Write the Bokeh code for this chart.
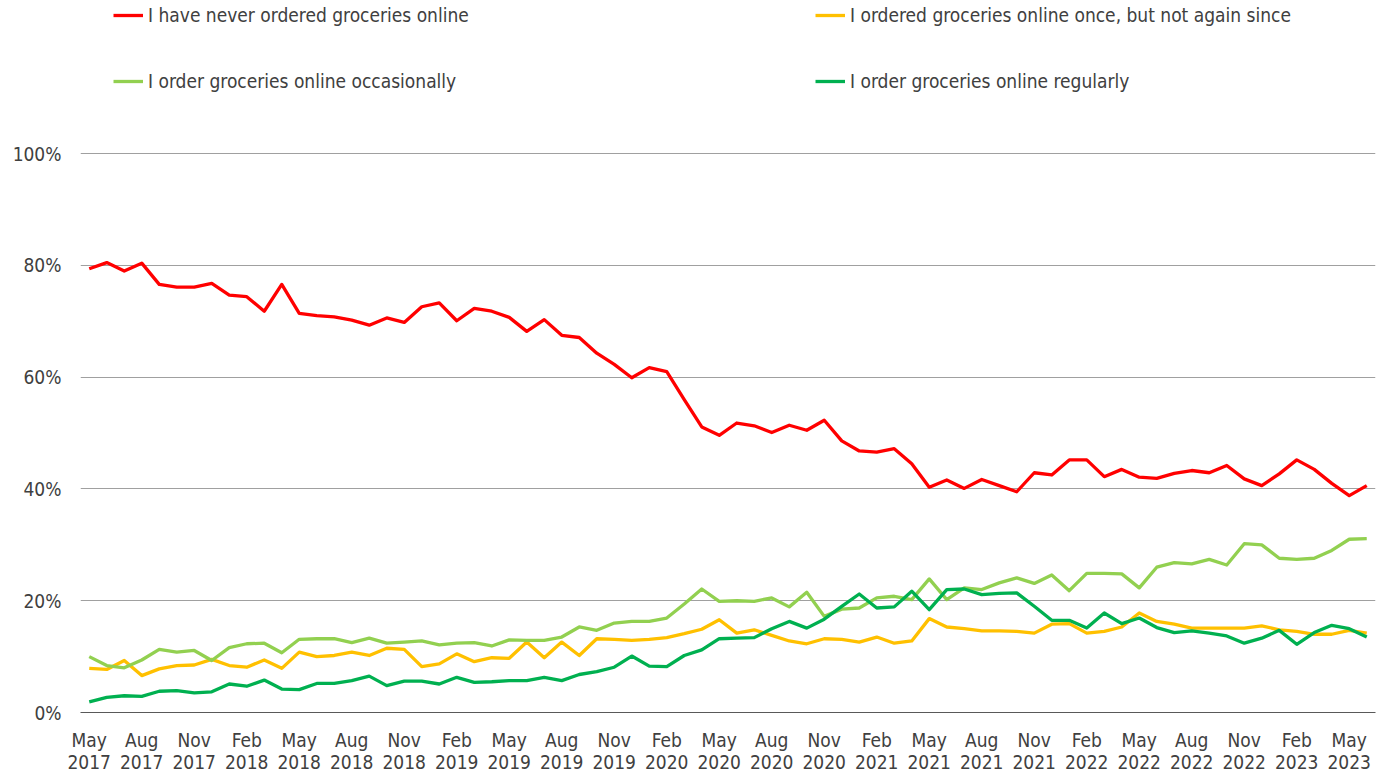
from bokeh.plotting import figure
from bokeh.models import Range1d, FixedTicker, PrintfTickFormatter, Legend, LegendItem
from bokeh.embed import file_html
from bokeh.resources import INLINE

# ---- data (percent of respondents), monthly May 2017 .. Jun 2023 ----
never = [79.4, 80.5, 79.0, 80.4, 76.6, 76.1, 76.1, 76.8, 74.7, 74.4, 71.8, 76.6, 71.4, 71.0, 70.8,
         70.2, 69.3, 70.6, 69.8, 72.6, 73.3, 70.1, 72.3, 71.8, 70.7, 68.2, 70.3, 67.5, 67.1, 64.3,
         62.3, 59.9, 61.7, 61.0, 56.0, 51.1, 49.6, 51.8, 51.3, 50.1, 51.4, 50.5, 52.3, 48.6, 46.8,
         46.6, 47.2, 44.5, 40.3, 41.6, 40.1, 41.7, 40.6, 39.5, 42.9, 42.5, 45.2, 45.2, 42.2, 43.5,
         42.1, 41.9, 42.8, 43.3, 42.9, 44.2, 41.8, 40.6, 42.7, 45.2, 43.5, 41.0, 38.8, 40.6]
once = [7.9, 7.7, 9.3, 6.6, 7.8, 8.4, 8.5, 9.5, 8.4, 8.1, 9.4, 7.9, 10.8, 10.0, 10.2,
        10.8, 10.2, 11.5, 11.3, 8.2, 8.7, 10.5, 9.1, 9.8, 9.7, 12.6, 9.8, 12.6, 10.2, 13.2,
        13.1, 12.9, 13.1, 13.4, 14.1, 14.9, 16.6, 14.2, 14.8, 13.8, 12.8, 12.3, 13.2, 13.1, 12.6,
        13.5, 12.4, 12.8, 16.8, 15.3, 15.0, 14.6, 14.6, 14.5, 14.2, 15.8, 15.9, 14.2, 14.5, 15.3,
        17.8, 16.3, 15.8, 15.1, 15.1, 15.1, 15.1, 15.5, 14.8, 14.5, 14.0, 14.0, 14.7, 14.2]
occasionally = [10.0, 8.4, 8.0, 9.4, 11.3, 10.8, 11.1, 9.3, 11.6, 12.3, 12.4, 10.7, 13.1, 13.2, 13.2,
                12.5, 13.3, 12.4, 12.6, 12.8, 12.1, 12.4, 12.5, 11.9, 13.0, 12.9, 12.9, 13.5, 15.3, 14.7,
                16.0, 16.3, 16.3, 16.9, 19.4, 22.1, 19.9, 20.0, 19.9, 20.5, 18.9, 21.5, 17.2, 18.5, 18.7,
                20.5, 20.8, 20.2, 23.9, 20.2, 22.3, 22.0, 23.2, 24.1, 23.1, 24.6, 21.8, 24.9, 24.9, 24.8,
                22.3, 26.0, 26.8, 26.6, 27.4, 26.4, 30.2, 30.0, 27.6, 27.4, 27.6, 29.0, 31.0, 31.1]
regularly = [1.9, 2.7, 3.0, 2.9, 3.8, 3.9, 3.5, 3.7, 5.1, 4.7, 5.8, 4.2, 4.1, 5.2, 5.2,
             5.7, 6.5, 4.8, 5.6, 5.6, 5.1, 6.3, 5.4, 5.5, 5.7, 5.7, 6.3, 5.7, 6.8, 7.3,
             8.1, 10.1, 8.3, 8.2, 10.2, 11.2, 13.2, 13.3, 13.4, 15.0, 16.3, 15.1, 16.7, 19.0, 21.2,
             18.7, 18.9, 21.7, 18.4, 22.0, 22.1, 21.1, 21.3, 21.4, 19.0, 16.5, 16.5, 15.1, 17.8, 15.9,
             16.9, 15.2, 14.3, 14.6, 14.2, 13.7, 12.4, 13.3, 14.7, 12.2, 14.3, 15.6, 15.0, 13.5]

series_names = ["I have never ordered groceries online",
                "I ordered groceries online once, but not again since",
                "I order groceries online occasionally",
                "I order groceries online regularly"]
series_colors = ["#FF0000", "#FFC000", "#92D050", "#00B050"]

tick_labels = ["May\n2017", "Aug\n2017", "Nov\n2017", "Feb\n2018", "May\n2018", "Aug\n2018",
               "Nov\n2018", "Feb\n2019", "May\n2019", "Aug\n2019", "Nov\n2019", "Feb\n2020",
               "May\n2020", "Aug\n2020", "Nov\n2020", "Feb\n2021", "May\n2021", "Aug\n2021",
               "Nov\n2021", "Feb\n2022", "May\n2022", "Aug\n2022", "Nov\n2022", "Feb\n2023",
               "May\n2023"]
y_ticks = [0, 20, 40, 60, 80, 100]

month_index = list(range(len(never)))
tick_positions = month_index[::3]

FONT = "DejaVu Sans Condensed, DejaVu Sans"
TXT = "#404040"

p = figure(frame_width=1295, frame_height=712, output_backend="svg", toolbar_location=None,
           x_range=Range1d(-0.5, len(never) - 0.5), y_range=Range1d(0, 127.4),
           min_border_left=80, min_border_right=2, min_border_top=0, min_border_bottom=60)
p.outline_line_color = None
p.background_fill_color = "white"
p.border_fill_color = "white"

renderers = []
for ys, c in zip([never, once, occasionally, regularly], series_colors):
    r = p.line(month_index, ys, line_color=c, line_width=3.3, line_join="round")
    renderers.append(r)

# axes
p.xaxis.ticker = FixedTicker(ticks=tick_positions)
p.xaxis.major_label_overrides = {t: l for t, l in zip(tick_positions, tick_labels)}
p.xaxis.axis_line_color = "#595959"
p.xaxis.axis_line_width = 1
p.xaxis.major_tick_line_color = None
p.xaxis.minor_tick_line_color = None
p.xaxis.major_tick_out = 0
p.xaxis.major_label_standoff = 16
p.xaxis.major_label_text_font = FONT
p.xaxis.major_label_text_font_size = "19px"
p.xaxis.major_label_text_line_height = 1.0
p.xaxis.major_label_text_color = TXT

p.yaxis.ticker = FixedTicker(ticks=y_ticks)
p.yaxis.formatter = PrintfTickFormatter(format="%d%%")
p.yaxis.axis_line_color = None
p.yaxis.major_tick_line_color = None
p.yaxis.minor_tick_line_color = None
p.yaxis.major_tick_out = 0
p.yaxis.major_label_standoff = 19
p.yaxis.major_label_text_font = FONT
p.yaxis.major_label_text_font_size = "19px"
p.yaxis.major_label_text_color = TXT

p.xgrid.grid_line_color = None
p.ygrid.ticker = FixedTicker(ticks=y_ticks[1:])
p.ygrid.grid_line_color = "#A0A0A0"
p.ygrid.grid_line_width = 1

# legend: four single-item legends laid out as 2x2
legend_pos = [(33, 686), (735, 686), (33, 620), (735, 620)]
for name, r, loc in zip(series_names, renderers, legend_pos):
    lg = Legend(items=[LegendItem(label=name, renderers=[r])], location=loc,
                orientation="horizontal", padding=0, margin=0, spacing=0,
                glyph_width=30, glyph_height=20, label_height=20, label_standoff=5,
                label_text_font=FONT, label_text_font_size="19px", label_text_color=TXT,
                border_line_color=None, background_fill_alpha=0)
    p.add_layout(lg, "center")

open("out.html", "w").write(file_html(p, INLINE))
